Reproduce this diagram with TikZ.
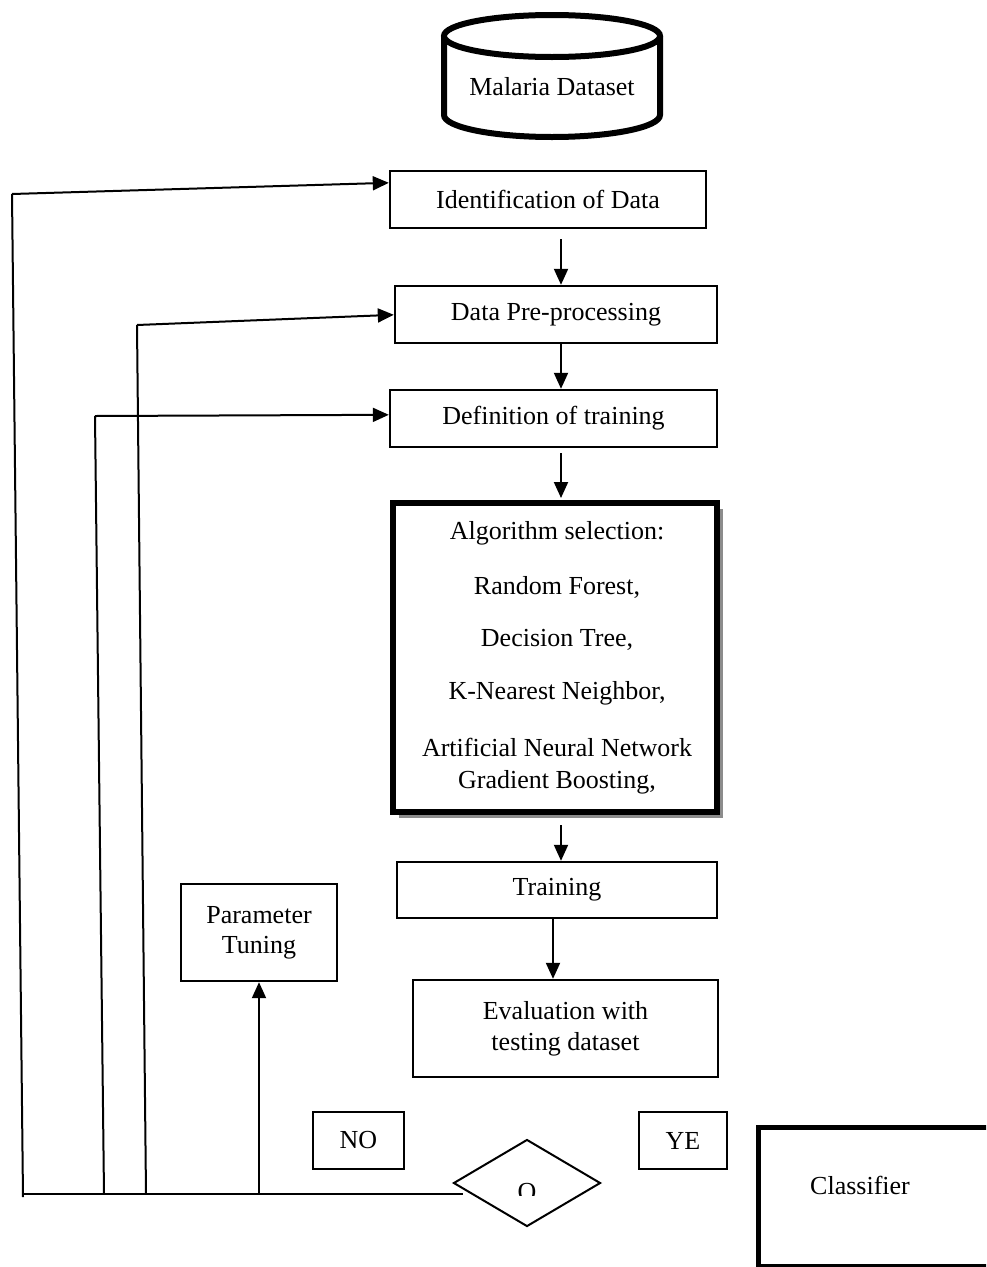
\documentclass[tikz,border=0pt]{standalone}
\usepackage{fontspec}
\setmainfont{Liberation Serif}
\usetikzlibrary{arrows.meta,shapes.geometric,shadows,calc}
\begin{document}
\begin{tikzpicture}[x=1pt,y=-1pt,
  every node/.style={font=\fontsize{26}{31}\selectfont},
  box/.style={draw,line width=2.4pt,rectangle,inner sep=0pt,align=center},
  bigbox/.style={draw,line width=6pt,rectangle,inner sep=0pt},
  conn/.style={line width=2pt},
  arr/.style={line width=2pt,-{Triangle[length=16pt,width=14pt]}},
  txt/.style={inner sep=0pt}
]
\path[use as bounding box,clip] (0,0) rectangle (986,1267);
\fill[white] (0,0) rectangle (986,1267);

% Cylinder
\draw[line width=6pt] (444,36) -- (444,115) arc[start angle=180,end angle=0,x radius=108,y radius=22] -- (660,36);
\draw[line width=6pt,fill=white] (552,36) ellipse[x radius=108,y radius=21];
\node[txt] (ds) at (552,87) {Malaria Dataset};

% main boxes
\node[box,minimum width=316pt,minimum height=57pt] (ident) at (548,199.5) {Identification of Data};
\node[box,minimum width=322pt,minimum height=57pt] (prep) at (556,314.5) {Data Pre-processing};
\node[box,minimum width=327pt,minimum height=57pt] (defn) at (553.5,418.5) {Definition of training};
\node[bigbox,minimum width=324pt,minimum height=309pt,fill=white,
      drop shadow={shadow xshift=6pt,shadow yshift=-6pt,fill=black!45,opacity=1}] (algo) at (555,657.5) {};
\node[txt] (a1) at (557,533) {Algorithm selection:};
\node[txt] (a2) at (557,587) {Random Forest,};
\node[txt] (a3) at (557,640) {Decision Tree,};
\node[txt] (a4) at (557,693) {K-Nearest Neighbor,};
\node[txt] (a5) at (557,747) {Artificial Neural Network};
\node[txt] (a6) at (557,782) {Gradient Boosting,};
\node[box,minimum width=320pt,minimum height=56pt] (train) at (557,890) {Training};
\node[box,minimum width=305pt,minimum height=97pt] (eval) at (565.5,1028.5) {Evaluation with\\testing dataset};
\node[box,minimum width=156pt,minimum height=97pt,font=\fontsize{26}{30}\selectfont] (param) at (259,932.5) {Parameter\\Tuning};
\node[box,minimum width=91pt,minimum height=57pt] (no) at (358.5,1140.5) {NO};
\node[box,minimum width=88pt,minimum height=57pt] (yes) at (683,1140.5) {YE};
\node[draw,diamond,line width=2pt,aspect=1.69,minimum width=147pt,minimum height=87pt,inner sep=0pt] (dia) at (527,1183) {};
\begin{scope}
\clip (480,1170) rectangle (580,1195);
\node[txt] (q) at (527,1192) {O};
\end{scope}
\node[draw,line width=5pt,rectangle,inner sep=0pt,minimum width=260pt,minimum height=139pt,anchor=north west] (cls) at (755.5,1124.5) {};
\node[txt] (clst) at (860,1185) {Classifier};

% vertical flow
\coordinate (xa) at (561,0);
\coordinate (xb) at (553,0);
\draw[arr,shorten <=10pt] (ident.south -| xa) -- (prep.north -| xa);
\draw[arr] (prep.south -| xa) -- (defn.north -| xa);
\draw[arr,shorten <=5pt] (defn.south -| xa) -- ([yshift=2pt]algo.north -| xa);
\draw[arr,shorten <=7pt] ([yshift=-3pt]algo.south -| xa) -- (train.north -| xa);
\draw[arr] (train.south -| xb) -- (eval.north -| xb);

% feedback loops
\coordinate (b0) at (23,1194);
\coordinate (b1) at (104,1194);
\coordinate (b2) at (146,1194);
\coordinate (b3) at (259,1194);
\coordinate (bend) at ($(dia.west)+(10,11)$);
\coordinate (t1) at (12,194);
\coordinate (t2) at (137,325);
\coordinate (t3) at (95,416);
\draw[conn] (bend) -- (b0);
\draw[conn] (23,1197) -- (t1);
\draw[arr] (t1) -- ($(ident.north west)+(0,13)$);
\draw[conn] (b2) -- (t2);
\draw[arr] (t2) -- ($(prep.north west)+(0,30)$);
\draw[conn] (b1) -- (t3);
\draw[arr] (t3) -- ($(defn.north west)+(0,26)$);
\draw[arr] (b3) -- (param.south);
\end{tikzpicture}
\end{document}
